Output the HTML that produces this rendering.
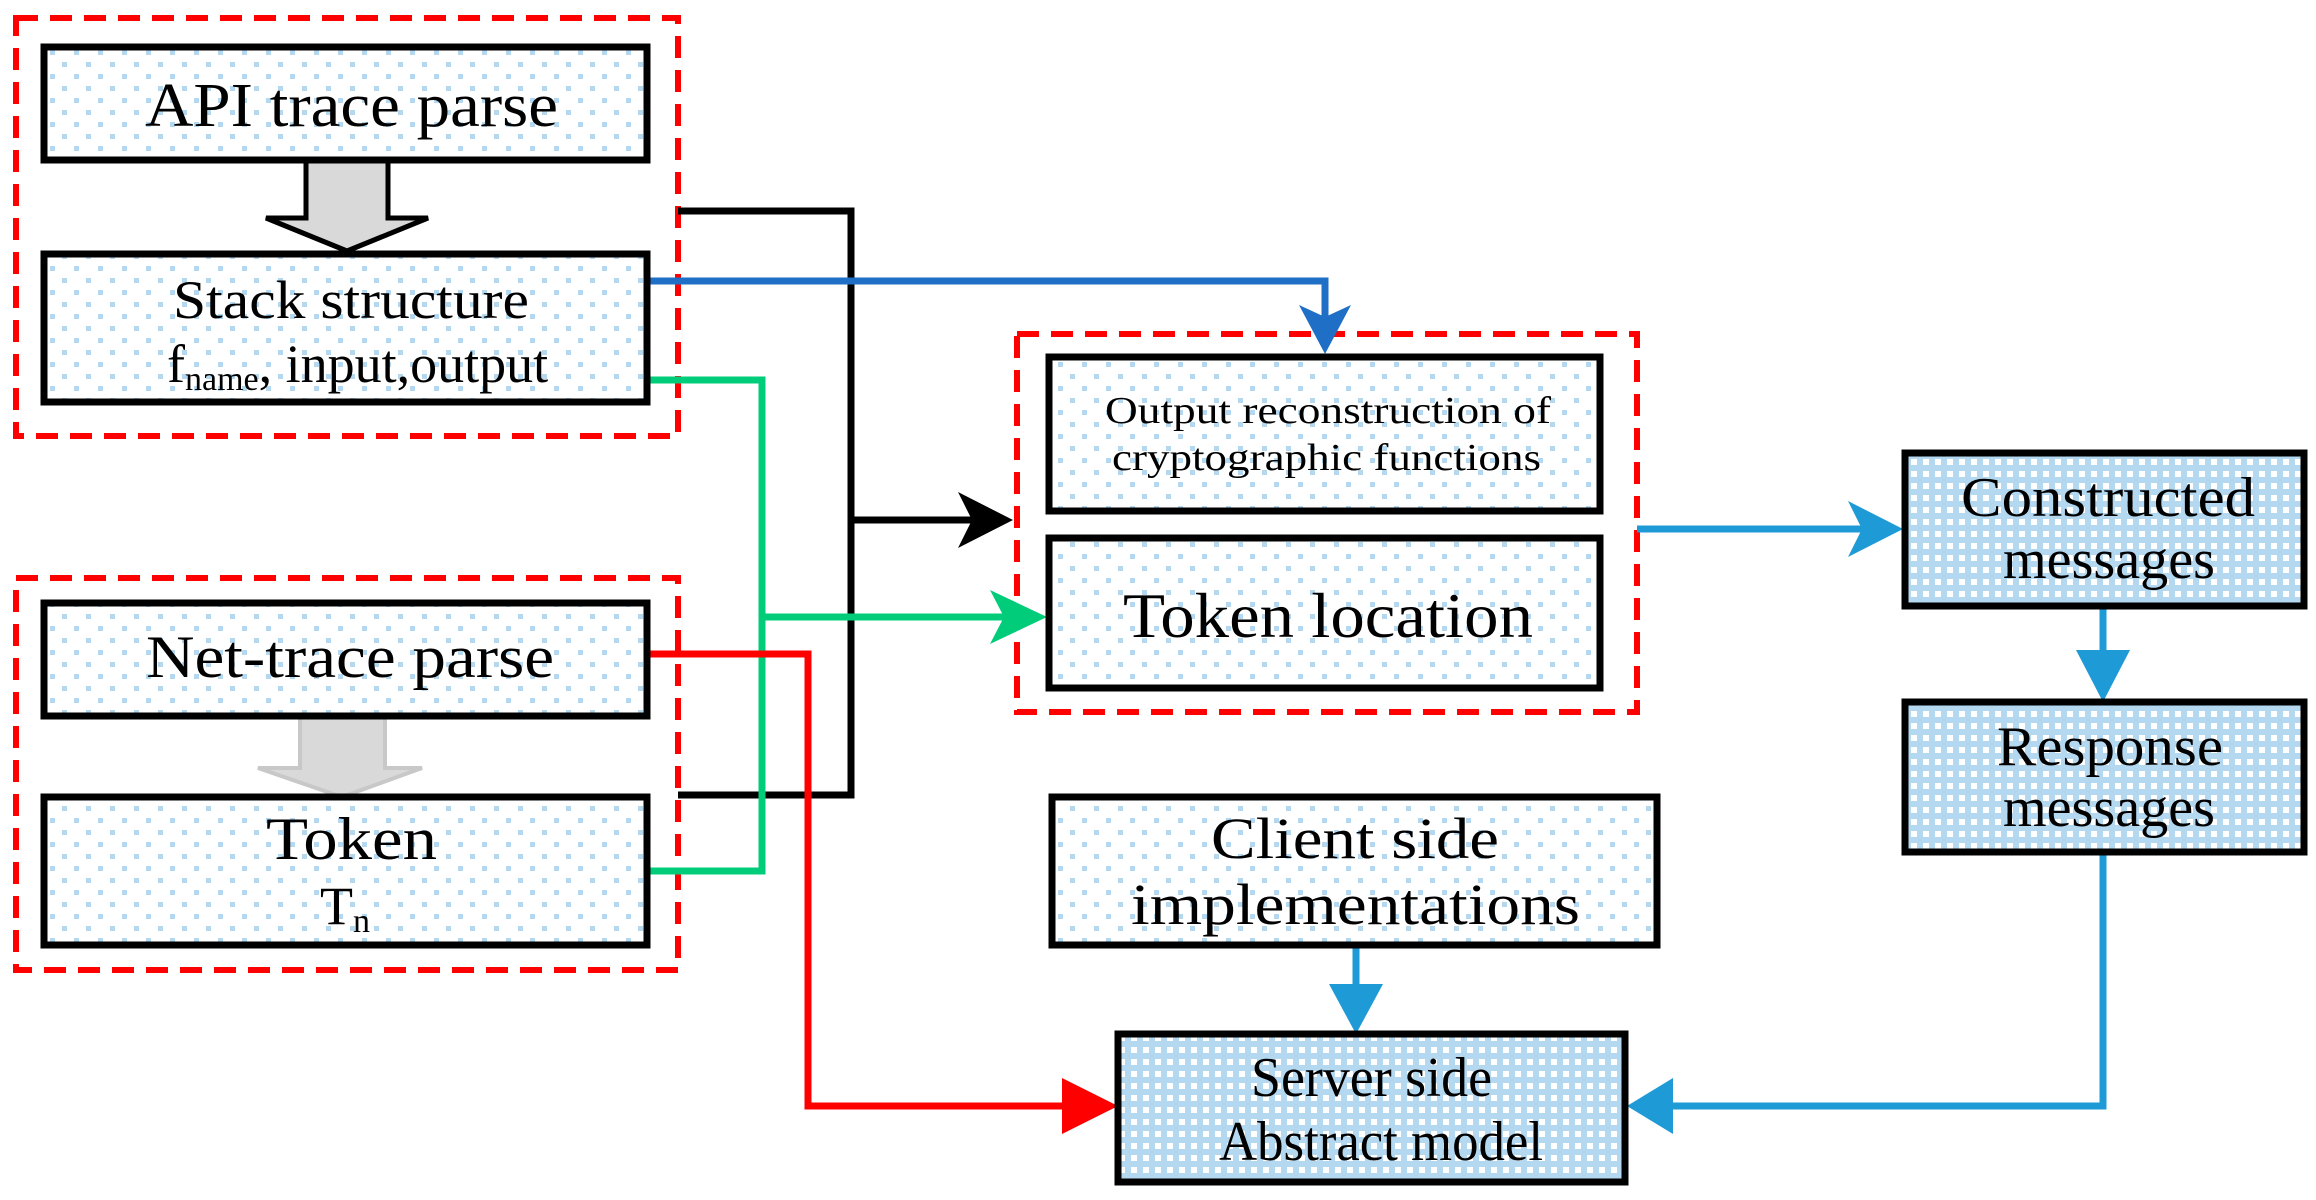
<!DOCTYPE html>
<html><head><meta charset="utf-8"><style>
html,body{margin:0;padding:0;background:#fff;}
svg{display:block;}
text{font-family:"Liberation Serif",serif;fill:#000;}
</style></head><body>
<svg width="2316" height="1200" viewBox="0 0 2316 1200" xmlns="http://www.w3.org/2000/svg">
<defs>
<pattern id="lt" width="24" height="24" patternUnits="userSpaceOnUse">
<rect width="24" height="24" fill="#fff"/>
<rect x="2" y="2" width="5" height="5" fill="#b4d8f0"/>
<rect x="14" y="14" width="5" height="5" fill="#b4d8f0"/>
</pattern>
<pattern id="dk" width="12" height="12" patternUnits="userSpaceOnUse">
<rect width="12" height="12" fill="#b4d8f0"/>
<rect x="3" y="3" width="6" height="6" fill="#fff"/>
</pattern>
</defs>

<g fill="none" stroke="#f00" stroke-width="6" stroke-dasharray="22,12">
<rect x="16" y="18" width="662" height="418"/>
<rect x="16" y="578" width="662" height="392"/>
<rect x="1017" y="334" width="620" height="378"/>
</g>

<g fill="none" stroke-width="7">
<polyline points="678,211 851,211 851,795 678,795" stroke="#000"/>
<line x1="851" y1="520" x2="975" y2="520" stroke="#000"/>
<polyline points="647,281 1325,281 1325,320" stroke="#1f6fc6"/>
<polyline points="647,380 762,380 762,871 647,871" stroke="#00cc7a"/>
<line x1="762" y1="617" x2="1005" y2="617" stroke="#00cc7a"/>
<polyline points="647,654 808,654 808,1106 1075,1106" stroke="#f00"/>
<line x1="1637" y1="529" x2="1865" y2="529" stroke="#1e9ad6"/>
<line x1="2103" y1="606" x2="2103" y2="665" stroke="#1e9ad6"/>
<polyline points="2103,852 2103,1106 1660,1106" stroke="#1e9ad6"/>
<line x1="1356" y1="945" x2="1356" y2="1000" stroke="#1e9ad6"/>
</g>
<polygon points="1013,520 958,492 972,520 958,548" fill="#000"/>
<polygon points="1047,617 990,590 1004,617 990,644" fill="#00cc7a"/>
<polygon points="1325,354 1299,305 1325,317 1351,305" fill="#1f6fc6"/>
<polygon points="1118,1106 1062,1078 1062,1134" fill="#f00"/>
<polygon points="1903,529 1848,501 1862,529 1848,557" fill="#1e9ad6"/>
<polygon points="2103,702 2076,650 2130,650" fill="#1e9ad6"/>
<polygon points="1356,1034 1329,984 1383,984" fill="#1e9ad6"/>
<polygon points="1627,1106 1673,1078 1673,1134" fill="#1e9ad6"/>

<polygon points="306,160 388,160 388,218 428,218 347,251 266,218 306,218" fill="#d9d9d9" stroke="#000" stroke-width="5"/>
<polygon points="300,716 385,716 385,768 422,768 342,797 258,768 300,768" fill="#d9d9d9" stroke="#c8c8c8" stroke-width="4"/>

<g stroke="#000" stroke-width="7">
<rect x="44" y="47" width="603" height="113" fill="url(#lt)"/>
<rect x="44" y="254" width="603" height="148" fill="url(#lt)"/>
<rect x="44" y="603" width="603" height="113" fill="url(#lt)"/>
<rect x="44" y="797" width="603" height="148" fill="url(#lt)"/>
<rect x="1049" y="357" width="551" height="154" fill="url(#lt)"/>
<rect x="1049" y="538" width="551" height="150" fill="url(#lt)"/>
<rect x="1052" y="797" width="605" height="148" fill="url(#lt)"/>
<rect x="1118" y="1034" width="507" height="148" fill="url(#dk)"/>
<rect x="1905" y="453" width="399" height="153" fill="url(#dk)"/>
<rect x="1905" y="702" width="399" height="150" fill="url(#dk)"/>
</g>

<g font-family="Liberation Serif, serif" lengthAdjust="spacingAndGlyphs">
<text x="145" y="126" font-size="62" textLength="413" lengthAdjust="spacingAndGlyphs">API trace parse</text>
<text x="173" y="318" font-size="54" textLength="356" lengthAdjust="spacingAndGlyphs">Stack structure</text>
<text x="167" y="382" font-size="54">f<tspan font-size="34" dy="8">name</tspan><tspan dy="-8">, input,output</tspan></text>
<text x="146" y="677" font-size="60" textLength="408" lengthAdjust="spacingAndGlyphs">Net-trace parse</text>
<text x="266" y="859" font-size="60" textLength="171" lengthAdjust="spacingAndGlyphs">Token</text>
<text x="320" y="924" font-size="54">T<tspan font-size="34" dy="8">n</tspan></text>
<text x="1105" y="423" font-size="38" textLength="446" lengthAdjust="spacingAndGlyphs">Output reconstruction of</text>
<text x="1112" y="470" font-size="38" textLength="429" lengthAdjust="spacingAndGlyphs">cryptographic functions</text>
<text x="1123" y="637" font-size="64" textLength="410" lengthAdjust="spacingAndGlyphs">Token location</text>
<text x="1211" y="858" font-size="58" textLength="288" lengthAdjust="spacingAndGlyphs">Client side</text>
<text x="1131" y="924" font-size="58" textLength="449" lengthAdjust="spacingAndGlyphs">implementations</text>
<text x="1251" y="1096" font-size="56" textLength="241" lengthAdjust="spacingAndGlyphs">Server side</text>
<text x="1219" y="1160" font-size="56" textLength="324" lengthAdjust="spacingAndGlyphs">Abstract model</text>
<text x="1961" y="516" font-size="56" textLength="294" lengthAdjust="spacingAndGlyphs">Constructed</text>
<text x="2003" y="578" font-size="56" textLength="212" lengthAdjust="spacingAndGlyphs">messages</text>
<text x="1997" y="765" font-size="56" textLength="226" lengthAdjust="spacingAndGlyphs">Response</text>
<text x="2003" y="826" font-size="56" textLength="212" lengthAdjust="spacingAndGlyphs">messages</text>
</g>
</svg>
</body></html>
